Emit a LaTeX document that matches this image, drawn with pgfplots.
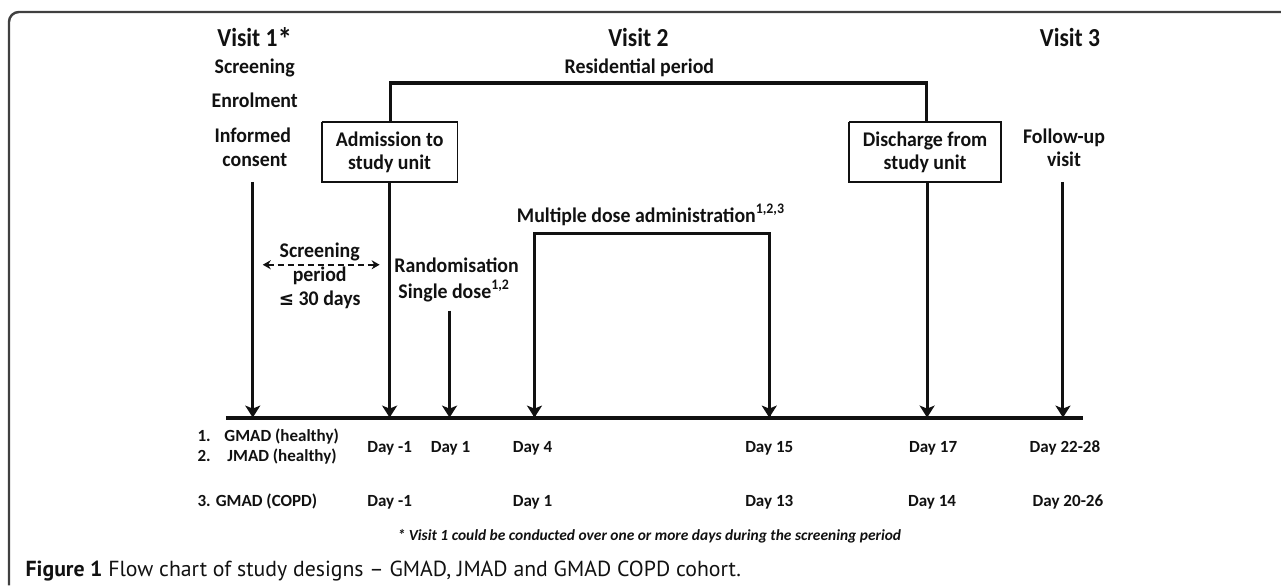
\documentclass[border=0pt]{standalone}
\usepackage{fontspec}
\usepackage{pgfplots}
\pgfplotsset{compat=1.18}
\usetikzlibrary{arrows.meta}
\setmainfont{Carlito}
\newfontfamily\capfont{PT Sans}
\newfontfamily\symfont{DejaVu Sans}
\definecolor{ink}{HTML}{111111}
\newcommand{\fs}[1]{\fontsize{#1}{#1}\selectfont}
\tikzset{arr/.style={line width=0.03cm, -{Stealth[length=0.12cm,width=0.15cm,inset=0.03cm]}}}
\begin{document}
\begin{tikzpicture}
\begin{axis}[
  axis lines=none, scale only axis, width=12.82cm, height=5.86cm,
  xmin=0, xmax=1282, ymin=0, ymax=586, y dir=reverse, clip=false,
  every axis plot/.append style={ink, line join=miter}]
\path (rel axis cs:0,0) rectangle (rel axis cs:1,1);
% frame
\addplot[draw=black!75, line width=0.7pt, rounded corners=0.1cm] coordinates {(9,586) (9,12) (1282,12)};
% residential bracket
\addplot[line width=0.032cm] coordinates {(391,122) (391,83) (927,83) (927,122)};
% multiple dose bracket
\addplot[line width=0.032cm] coordinates {(535,417) (535,234) (770,234) (770,417)};
% timeline
\addplot[line width=0.04cm] coordinates {(226,418) (1084,418)};
% arrows
\addplot[arr] coordinates {(253,182) (253,418)};
\addplot[arr] coordinates {(390,182) (390,418)};
\addplot[arr] coordinates {(450,311) (450,418)};
\addplot[arr] coordinates {(535,380) (535,418)};
\addplot[arr] coordinates {(770,380) (770,418)};
\addplot[arr] coordinates {(928,182) (928,418)};
\addplot[arr] coordinates {(1064,182) (1064,418)};
% screening dashed
\addplot[line width=0.016cm, dash pattern=on 0.06cm off 0.04cm, {Stealth[length=0.08cm,width=0.09cm]}-{Stealth[length=0.08cm,width=0.09cm]}] coordinates {(263,265) (380,265)};
% boxes
\addplot[line width=0.018cm, fill=white] coordinates {(322,122) (458,122) (458,182) (322,182) (322,122)};
\addplot[line width=0.018cm, fill=white] coordinates {(850,122) (1002,122) (1002,182) (850,182) (850,122)};
% texts
\begin{scope}[every node/.style={text=ink, font=\bfseries\fs{5.65}, anchor=base, inner sep=0pt, yscale=1.05}]
\node[font=\bfseries\fs{6.7}, yscale=1.05] at (axis cs:255,47) {Visit 1\raisebox{-0.25ex}{\fs{8.3}*}};
\node[font=\bfseries\fs{6.7}, yscale=1.05] at (axis cs:639,47) {Visit 2};
\node[font=\bfseries\fs{6.7}, yscale=1.05] at (axis cs:1071,47) {Visit 3};
\node at (axis cs:255,74) {Screening};
\node at (axis cs:640,74) {Residential period};
\node at (axis cs:255,108) {Enrolment};
\node at (axis cs:253,143) {Informed};
\node at (axis cs:255,167) {consent};
\node at (axis cs:390,147) {Admission to};
\node at (axis cs:390,170) {study unit};
\node at (axis cs:926,147) {Discharge from};
\node at (axis cs:926,170) {study unit};
\node at (axis cs:1065,144) {Follow-up};
\node at (axis cs:1065,167) {visit};
\node at (axis cs:652,223) {Multiple dose administration\textsuperscript{1,2,3}};
\node at (axis cs:320,258) {Screening};
\node at (axis cs:320,282) {period};
\node at (axis cs:320,306) {{\symfont\fs{5.2}≤} 30 days};
\node at (axis cs:457,273) {Randomisation};
\node at (axis cs:455,299) {Single dose\textsuperscript{1,2}};
\end{scope}
\begin{scope}[every node/.style={text=ink, font=\bfseries\fs{4.85}, anchor=base, inner sep=0pt}]
\node[anchor=base west] at (axis cs:197,442) {1.};
\node[anchor=base west] at (axis cs:224,442) {GMAD (healthy)};
\node[anchor=base west] at (axis cs:197,462) {2.};
\node[anchor=base west] at (axis cs:227,462) {JMAD (healthy)};
\node[anchor=base west] at (axis cs:197,507) {3. GMAD (COPD)};
\node at (axis cs:390,453) {Day -1};
\node at (axis cs:451,453) {Day 1};
\node at (axis cs:533,453) {Day 4};
\node at (axis cs:770,453) {Day 15};
\node at (axis cs:934,453) {Day 17};
\node at (axis cs:1066,453) {Day 22-28};
\node at (axis cs:390,507) {Day -1};
\node at (axis cs:533,507) {Day 1};
\node at (axis cs:770,507) {Day 13};
\node at (axis cs:933,507) {Day 14};
\node at (axis cs:1069,507) {Day 20-26};
\node[font=\bfseries\itshape\fs{4.4}] at (axis cs:650,541) {* Visit 1 could be conducted over one or more days during the screening period};
\node[anchor=base west, font=\capfont\fs{6.2}] at (axis cs:25,577) {\textbf{Figure 1} Flow chart of study designs – GMAD, JMAD and GMAD COPD cohort.};
\end{scope}
\end{axis}
\end{tikzpicture}
\end{document}
